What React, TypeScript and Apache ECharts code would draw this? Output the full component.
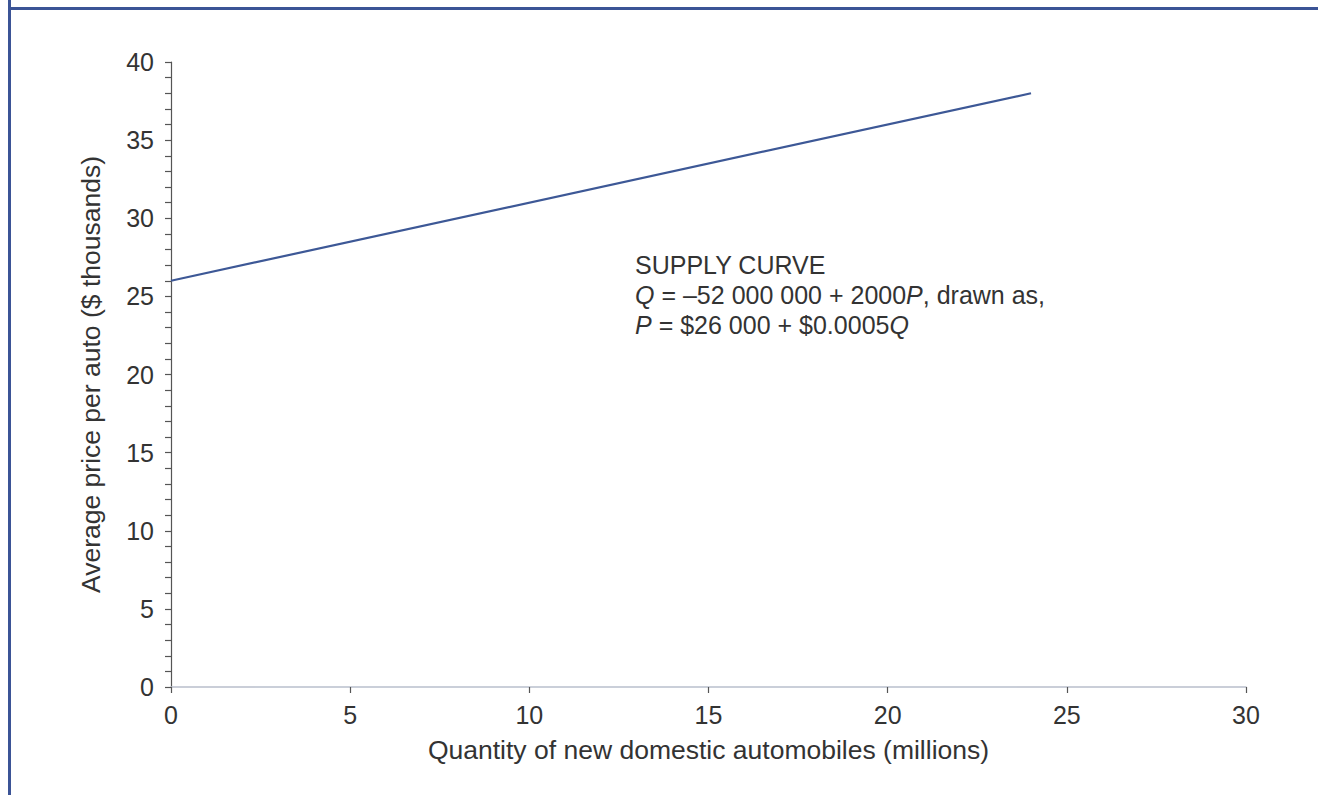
import React, { useEffect, useRef } from "react";
import * as echarts from "echarts";

const xTicks = [0, 5, 10, 15, 20, 25, 30];
const yTicks = [0, 5, 10, 15, 20, 25, 30, 35, 40];
const supplyQ = [0, 24];
const supplyP = [26, 38];
const annotationAnchor = [12.95, 28.0];
const xTitle = "Quantity of new domestic automobiles (millions)";
const yTitle = "Average price per auto ($ thousands)";

const FONT = "'Liberation Sans', Arial, Helvetica, sans-serif";
const FRAME = "#3b5496";
const FS = 25;
const TFS = 26.5;

export default function App() {
  const ref = useRef<HTMLDivElement>(null);
  useEffect(() => {
    document.body.style.margin = "0";
    const chart = echarts.init(ref.current!, null, { renderer: "svg" });
    const option: any = {
      animation: false,
      backgroundColor: "#ffffff",
      textStyle: { fontFamily: FONT },
      grid: { left: 171, right: 72, top: 62, bottom: 108, containLabel: false },
      xAxis: {
        type: "value",
        min: xTicks[0],
        max: xTicks[xTicks.length - 1],
        interval: 5,
        name: xTitle,
        nameLocation: "middle",
        nameGap: 49,
        nameTextStyle: { fontSize: TFS, color: "#333", fontFamily: FONT },
        axisLine: { show: true, onZero: false, lineStyle: { color: "#b9bfcc", width: 1.5 } },
        axisTick: { show: true, length: 6, lineStyle: { color: "#555", width: 1.2 } },
        axisLabel: { fontSize: FS, color: "#333", margin: 15, fontFamily: FONT },
        splitLine: { show: false },
      },
      yAxis: {
        type: "value",
        min: yTicks[0],
        max: yTicks[yTicks.length - 1],
        interval: 5,
        name: yTitle,
        nameLocation: "middle",
        nameGap: 67,
        nameTextStyle: { fontSize: TFS, color: "#333", fontFamily: FONT },
        axisLine: { show: true, onZero: false, lineStyle: { color: "#555", width: 1.2 } },
        axisTick: { show: true, length: 6, lineStyle: { color: "#555", width: 1.2 } },
        minorTick: { show: true, splitNumber: 5, length: 6, lineStyle: { color: "#555", width: 1.2 } },
        axisLabel: { fontSize: FS, color: "#333", margin: 17, fontFamily: FONT },
        splitLine: { show: false },
      },
      series: [
        {
          type: "line",
          data: supplyQ.map((q, i) => [q, supplyP[i]]),
          showSymbol: false,
          symbol: "none",
          lineStyle: { color: "#3d5896", width: 2.2 },
        },
      ],
    };
    chart.setOption(option);
    const pt = chart.convertToPixel({ gridIndex: 0 }, annotationAnchor) as number[];
    chart.setOption({
      graphic: [
        {
          type: "rect",
          shape: { x: 8, y: 0, width: 3, height: 795 },
          style: { fill: FRAME },
          silent: true,
        },
        {
          type: "rect",
          shape: { x: 8, y: 7, width: 1310, height: 3 },
          style: { fill: FRAME },
          silent: true,
        },
        {
          type: "text",
          x: pt[0],
          y: pt[1],
          style: {
            text: "SUPPLY CURVE\n{i|Q} = \u201352 000 000 + 2000{i|P}, drawn as,\n{i|P} = $26 000 + $0.0005{i|Q}",
            fontSize: FS,
            lineHeight: 30,
            fill: "#333",
            fontFamily: FONT,
            rich: {
              i: { fontStyle: "italic", fontSize: FS, lineHeight: 30, fill: "#333", fontFamily: FONT },
            },
          },
        },
      ],
    });
    return () => chart.dispose();
  }, []);
  return <div ref={ref} style={{ position: "absolute", left: 0, top: 0, width: 1318, height: 795 }} />;
}
